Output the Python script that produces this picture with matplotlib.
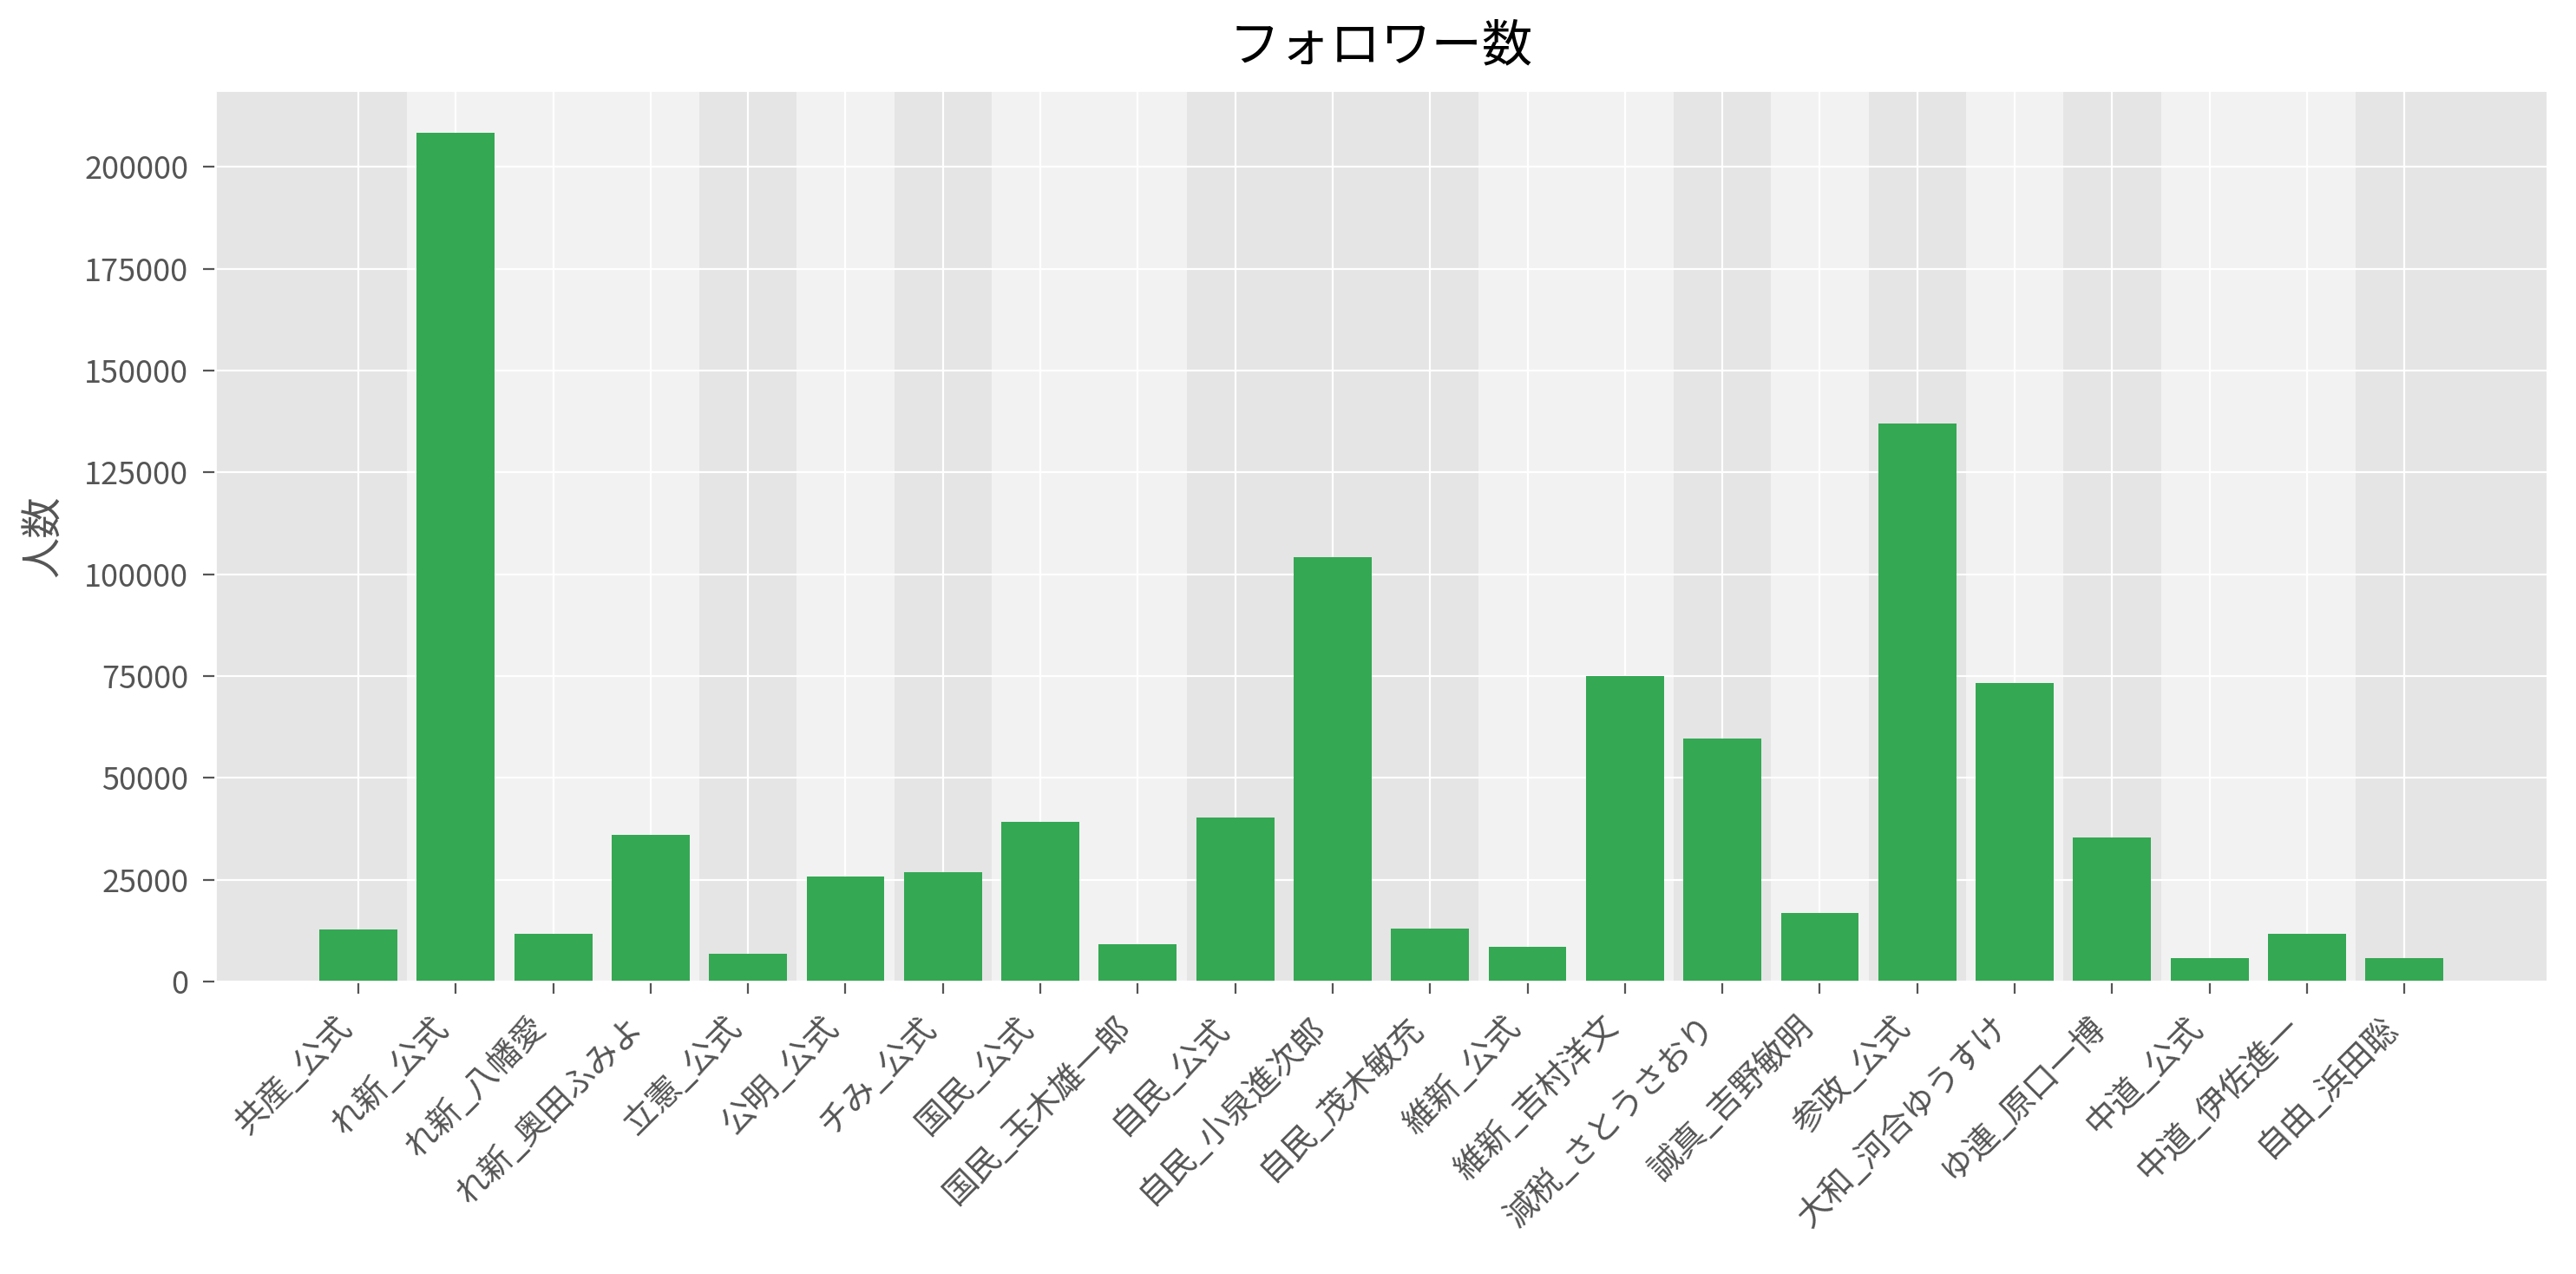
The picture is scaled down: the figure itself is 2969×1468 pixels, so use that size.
import matplotlib
matplotlib.use("Agg")
import matplotlib.pyplot as plt

plt.style.use("ggplot")
plt.rcParams["font.family"] = ["Noto Sans CJK JP", "DejaVu Sans"]

# ---- data ----
accounts = ["共産_公式", "れ新_公式", "れ新_八幡愛", "れ新_奥田ふみよ", "立憲_公式",
            "公明_公式", "チみ_公式", "国民_公式", "国民_玉木雄一郎", "自民_公式",
            "自民_小泉進次郎", "自民_茂木敏充", "維新_公式", "維新_吉村洋文",
            "減税_さとうさおり", "誠真_吉野敏明", "参政_公式", "大和_河合ゆうすけ",
            "ゆ連_原口一博", "中道_公式", "中道_伊佐進一", "自由_浜田聡"]
followers = [12800, 208400, 11700, 36100, 6900, 25800, 26800, 39200, 9200, 40300,
             104100, 13000, 8500, 74900, 59700, 16800, 137000, 73200, 35400,
             5800, 11700, 5800]
parties = [a.split("_")[0] for a in accounts]

fig = plt.figure(figsize=(2969 / 200, 1468 / 200), dpi=200)
ax = fig.add_axes([0.0835, 0.2296, 0.9055, 0.6996])

# alternating party bands
x = list(range(len(accounts)))
start = 0
g = 0
for i in range(1, len(accounts) + 1):
    if i == len(accounts) or parties[i] != parties[start]:
        if g % 2 == 1:
            ax.axvspan(start - 0.5, i - 0.5, color="#f2f2f2", lw=0, zorder=0)
        g += 1
        start = i

ax.bar(x, followers, width=0.8, color="#34a853", zorder=2)
ax.set_xlim(-1.47, len(accounts) - 1 + 1.47)
ax.set_xticks(x)
ax.set_xticklabels(accounts, rotation=45, ha="right", fontsize=13.7)
ax.set_yticks(range(0, 200001, 25000))
ax.tick_params(axis="y", labelsize=13, pad=6, length=5)
ax.tick_params(axis="x", pad=7, length=5)
ax.set_ylabel("人数", fontsize=17, color="#555555", labelpad=8)
ax.set_title("フォロワー数", fontsize=21, color="black", pad=12)

fig.savefig("out.png", dpi=200)
